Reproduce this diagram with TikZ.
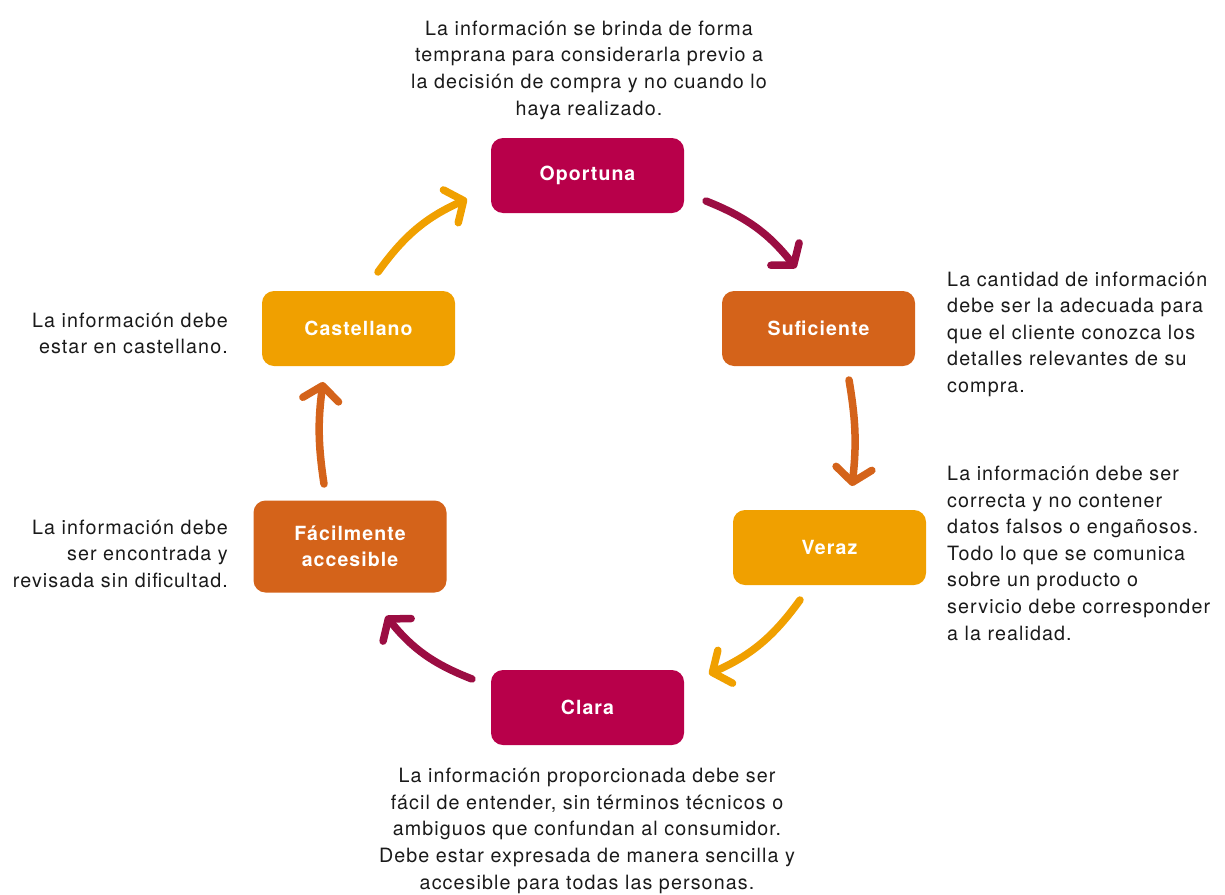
\documentclass[tikz,border=0pt]{standalone}
\usepackage{fontspec}
\setmainfont{TeX Gyre Heros}[LetterSpace=5.5]
\usetikzlibrary{arrows.meta}
\definecolor{mag}{HTML}{B8004A}
\definecolor{magd}{HTML}{9B0D42}
\definecolor{ora}{HTML}{D4631A}
\definecolor{yel}{HTML}{F0A000}
\definecolor{txt}{HTML}{1A1A1A}
\begin{document}
\begin{tikzpicture}[x=1pt,y=-1pt,
  box/.style={rounded corners=12pt, minimum width=193pt, minimum height=75pt, inner sep=0pt,
    text=white, font=\fontsize{19.5}{26}\bfseries\selectfont, align=center},
  desc/.style={font=\fontsize{19.7}{26.6}\selectfont, inner sep=0pt, text=txt},
  arr/.style={line width=7.5pt, line cap=round, -{Straight Barb[round,length=14pt,width=36pt]}},
]
\useasboundingbox (0,0) rectangle (1225,894);
% boxes
\node[box, fill=mag] (op) at (587.5,175.5) {Oportuna};
\node[box, fill=ora] (su) at (818.5,328.5) {Suficiente};
\node[box, fill=yel] (ve) at (829.5,547.5) {Veraz};
\node[box, fill=mag] (cl) at (587.5,707.5) {Clara};
\node[box, fill=ora, minimum height=92pt] (fa) at (350,546.5) {Fácilmente\\accesible};
\node[box, fill=yel] (ca) at (358.5,328.5) {Castellano};
% descriptions (anchored at the baseline of the last line)
\node[desc, anchor=base, align=center] (dop) at (589,115) {La información se brinda de forma\\temprana para considerarla previo a\\la decisión de compra y no cuando lo\\haya realizado.};
\node[desc, anchor=base west, align=left] (dsu) at (947,392.4) {La cantidad de información\\debe ser la adecuada para\\que el cliente conozca los\\detalles relevantes de su\\compra.};
\node[desc, anchor=base west, align=left] (dve) at (947,640) {La información debe ser\\correcta y no contener\\datos falsos o engañosos.\\Todo lo que se comunica\\sobre un producto o\\servicio debe corresponder\\a la realidad.};
\node[desc, anchor=base, align=center] (dcl) at (587,889) {La información proporcionada debe ser\\fácil de entender, sin términos técnicos o\\ambiguos que confundan al consumidor.\\Debe estar expresada de manera sencilla y\\accesible para todas las personas.};
\node[desc, anchor=base east, align=right] (dfa) at (228,587.2) {La información debe\\ser encontrada y\\revisada sin dificultad.};
\node[desc, anchor=base east, align=right] (dca) at (228,353.6) {La información debe\\estar en castellano.};
% arrow end points
\coordinate (a1s) at (706,201);
\coordinate (a1e) at (796,268);
\coordinate (a2s) at (849,380);
\coordinate (a2e) at (852,486);
\coordinate (a3s) at (800,600);
\coordinate (a3e) at (709,674);
\coordinate (a4s) at (472,679);
\coordinate (a4e) at (386,616);
\coordinate (a5s) at (324,484);
\coordinate (a5e) at (323,382);
\coordinate (a6s) at (378,272);
\coordinate (a6e) at (467,199);
\draw[arr, magd] (a1s) to[bend left=15] (a1e);
\draw[arr, ora] (a2s) to[bend left=8] (a2e);
\draw[arr, yel] (a3s) to[bend left=15] (a3e);
\draw[arr, magd] (a4s) to[bend left=15] (a4e);
\draw[arr, ora] (a5s) to[bend left=8] (a5e);
\draw[arr, yel] (a6s) to[bend left=15] (a6e);
\end{tikzpicture}
\end{document}
